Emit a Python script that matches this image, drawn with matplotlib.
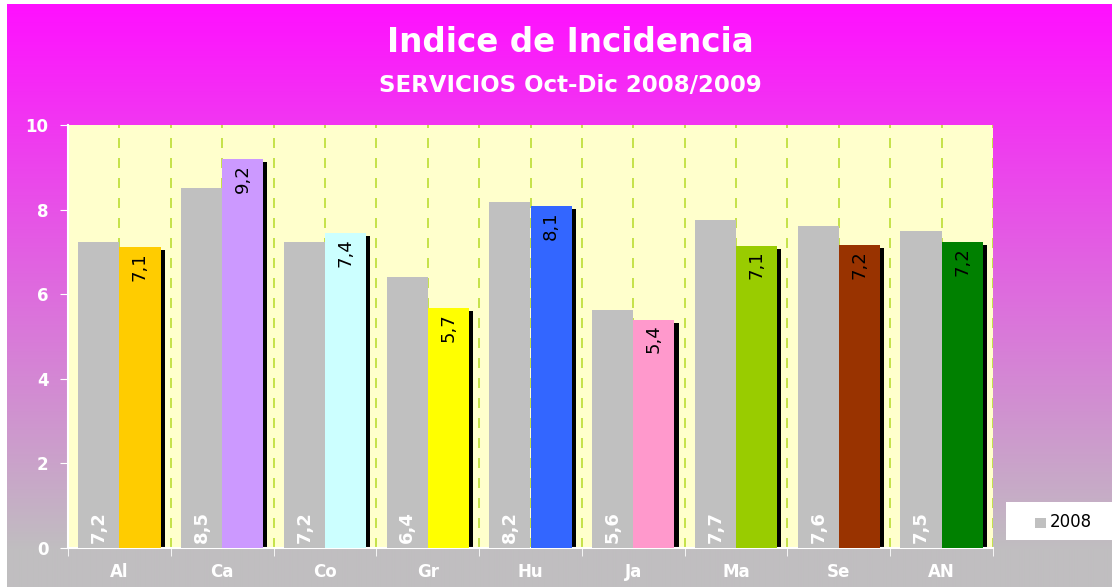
import matplotlib
matplotlib.use("Agg")
import matplotlib.pyplot as plt
import numpy as np
from matplotlib.patches import Rectangle

# data
categories = ["Al", "Ca", "Co", "Gr", "Hu", "Ja", "Ma", "Se", "AN"]
vals_2008 = [7.23, 8.51, 7.23, 6.40, 8.18, 5.63, 7.75, 7.61, 7.49]
vals_2009 = [7.12, 9.20, 7.45, 5.67, 8.08, 5.40, 7.15, 7.17, 7.23]
labels_2008 = ["7,2", "8,5", "7,2", "6,4", "8,2", "5,6", "7,7", "7,6", "7,5"]
labels_2009 = ["7,1", "9,2", "7,4", "5,7", "8,1", "5,4", "7,1", "7,2", "7,2"]
colors_2009 = ["#FFCC00", "#CC99FF", "#CCFFFF", "#FFFF00", "#3366FF",
               "#FF99CC", "#99CC00", "#993300", "#008000"]

fig = plt.figure(figsize=(11.12, 5.87), dpi=100)
fig.patch.set_facecolor("white")

# gradient background (magenta -> gray)
bg = fig.add_axes([7 / 1112, 0, 1 - 7 / 1112, 1 - 4 / 587])
bg.set_axis_off()
n = 583
t = np.clip(np.arange(n) / 545.0, 0, 1)[:, None]
top = np.array([255, 16, 255]) / 255
bot = np.array([192, 190, 192]) / 255
grad = top[None, :] * (1 - t) + bot[None, :] * t
img = np.repeat(grad[:, None, :], 10, axis=1)
bg.imshow(img, aspect="auto", extent=[0, 1, 0, 1], interpolation="bilinear")
bg.set_xlim(0, 1)
bg.set_ylim(0, 1)

ax = fig.add_axes([68 / 1112, 1 - 548 / 587, (993 - 68) / 1112, (548 - 125) / 587])
ax.set_facecolor("#FFFFCC")

x = np.arange(len(categories))
w = 0.4
ax.bar(x - w / 2, vals_2008, w, color="#C0C0C0", zorder=3)
# shadow behind 2009 bars
ax.bar(x + w / 2 + 0.04, np.array(vals_2009) - 0.07, w, color="black", zorder=2)
ax.bar(x + w / 2, vals_2009, w, color=colors_2009, zorder=3)

for xi, v, lab in zip(x, vals_2008, labels_2008):
    ax.text(xi - w / 2, 0.12, lab, rotation=90, ha="center", va="bottom",
            color="white", fontsize=13, fontweight="bold", zorder=4)
for xi, v, lab in zip(x, vals_2009, labels_2009):
    ax.text(xi + w / 2, v - 0.12, lab, rotation=90, ha="center", va="top",
            color="black", fontsize=13, zorder=4)

ax.set_xlim(-0.5, len(categories) - 0.5)
ax.set_ylim(0, 10)
for gx in np.arange(-0.5, len(categories), 0.5)[1:]:
    ax.axvline(gx, color="#BBDD33", linestyle=(0, (6, 6)), linewidth=1.2, zorder=1)

ax.set_yticks([0, 2, 4, 6, 8, 10])
ax.set_xticks(x)
ax.set_xticklabels(categories)
ax.set_xticks(np.arange(-0.5, len(categories), 1), minor=True)
ax.tick_params(axis="x", which="major", length=0, pad=11)
ax.tick_params(axis="x", which="minor", length=6, color="white", direction="out")
ax.tick_params(axis="y", length=6, color="white", direction="out", pad=8)
for lab in ax.get_xticklabels() + ax.get_yticklabels():
    lab.set_color("white")
    lab.set_fontweight("bold")
    lab.set_fontsize(12)
for s in ["top", "right"]:
    ax.spines[s].set_visible(False)
for s in ["left", "bottom"]:
    ax.spines[s].set_color("white")
    ax.spines[s].set_linewidth(1.5)

fig.text(570 / 1112, 1 - 43 / 587, "Indice de Incidencia", ha="center", va="center",
         color="white", fontsize=23.5, fontweight="bold")
fig.text(570 / 1112, 1 - 86 / 587, "SERVICIOS Oct-Dic 2008/2009", ha="center", va="center",
         color="white", fontsize=16.5, fontweight="bold")

# legend box (only 2008 entry, as in the original)
fig.patches.append(Rectangle((1006 / 1112, 1 - 540 / 587), 106 / 1112, 38 / 587,
                             transform=fig.transFigure, facecolor="white",
                             edgecolor="none", zorder=5))
fig.patches.append(Rectangle((1035 / 1112, 1 - 528 / 587), 11 / 1112, 10 / 587,
                             transform=fig.transFigure, facecolor="#C0C0C0",
                             edgecolor="none", zorder=6))
fig.text(1050 / 1112, 1 - 522 / 587, "2008", ha="left", va="center",
         color="black", fontsize=12, zorder=7)

fig.savefig("out.png", dpi=100)
